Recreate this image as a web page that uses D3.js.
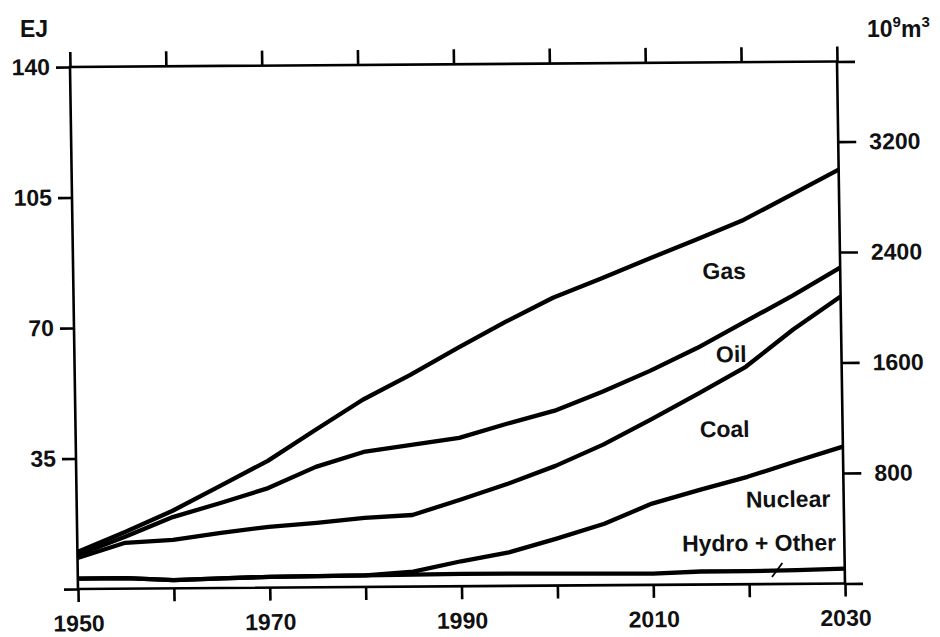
<!DOCTYPE html>
<html>
<head>
<meta charset="utf-8">
<script src="https://cdn.jsdelivr.net/npm/d3@7"></script>
<style>
  body { margin: 0; background: #fff; }
  svg { display: block; }
  text { font-family: 'Liberation Sans', Arial, sans-serif; font-weight: bold; fill: #111; }
</style>
</head>
<body>
<svg id="chart"></svg>
<script>
// years along x (5-year steps)
const years = [1950, 1955, 1960, 1965, 1970, 1975, 1980, 1985, 1990, 1995, 2000, 2005, 2010, 2015, 2020, 2025, 2030]

// supply per source, EJ (stacked from the bottom up)
const hydroOther = [2.8, 2.8, 2.2, 2.6, 2.9, 3.0, 3.1, 3.2, 3.3, 3.3, 3.2, 3.1, 3.0, 3.5, 3.5, 3.7, 4.0]
const nuclear = [0, 0, 0, 0, 0, 0, 0, 0.8, 3.4, 5.7, 9.4, 13.4, 18.8, 21.9, 25.3, 29.1, 32.7]
const coal = [5.5, 9.5, 10.8, 12.2, 13.4, 14.3, 15.4, 15.2, 16.5, 18.4, 19.5, 21.2, 22.5, 25.8, 29.5, 35.4, 40.3]
const oil = [0.8, 1.6, 6.1, 8.0, 10.4, 15.0, 17.7, 18.8, 16.6, 16.1, 14.8, 14.2, 13.1, 12.3, 12.1, 9.1, 7.7]
const gas = [0.8, 1.3, 1.7, 4.6, 7.3, 9.9, 14.0, 18.8, 24.1, 27.3, 30.3, 30.3, 30.0, 29.0, 27.3, 27.0, 26.3]

const sourceKeys = ['hydroOther', 'nuclear', 'coal', 'oil', 'gas']

// axes
const xTicks = [1950, 1960, 1970, 1980, 1990, 2000, 2010, 2020, 2030]
const xLabels = [1950, 1970, 1990, 2010, 2030]
const ejTicks = [0, 35, 70, 105, 140]
const bcmTicks = [0, 800, 1600, 2400, 3200, 3780]

// band labels (placed in data units)
const bandLabels = [
  { text: 'Gas', year: 2017.9, value: 81.9 },
  { text: 'Oil', year: 2018.5, value: 59.6 },
  { text: 'Coal', year: 2017.7, value: 39.5 },
  { text: 'Nuclear', year: 2024.2, value: 20.6 },
  { text: 'Hydro + Other', year: 2021.1, value: 8.9 },
]
const hydroLeader = [
  { year: 2023.5, value: 5.6 },
  { year: 2022.4, value: 1.9 },
]

const W = 940, H = 637
const innerW = 767, innerH = 522
const fs = 23

const svg = d3.select('#chart').attr('width', W).attr('height', H).attr('viewBox', [0, 0, W, H])

// the scan is a little skewed, so the plot frame is too
const g = svg.append('g').attr('transform', 'matrix(1,-0.00717,0.0153,1,70,67)')

const x = d3.scaleLinear().domain([1950, 2030]).range([0, innerW])
const y = d3.scaleLinear().domain([0, 140]).range([innerH, 0])
const yR = d3.scaleLinear().domain([0, 3780]).range([innerH, 0])

// stacked totals
const rows = years.map((yr, i) => ({
  year: yr,
  hydroOther: hydroOther[i],
  nuclear: nuclear[i],
  coal: coal[i],
  oil: oil[i],
  gas: gas[i],
}))
const layers = d3.stack().keys(sourceKeys)(rows)

// frame
g.append('rect')
  .attr('x', 0).attr('y', 0)
  .attr('width', innerW).attr('height', innerH)
  .attr('fill', 'none').attr('stroke', '#000').attr('stroke-width', 2.6)

function styleAxis(sel) {
  sel.attr('font-size', fs).attr('font-family', null)
  sel.select('.domain').remove()
  sel.selectAll('.tick line').attr('stroke', '#000').attr('stroke-width', 2.6)
  sel.selectAll('.tick text').attr('fill', '#111')
}

g.append('g')
  .call(d3.axisTop(x).tickValues(xTicks).tickSize(15).tickFormat(''))
  .call(styleAxis)

g.append('g')
  .attr('transform', `translate(0,${innerH})`)
  .call(d3.axisBottom(x).tickValues(xTicks).tickSize(13).tickPadding(13)
    .tickFormat(d => (xLabels.includes(d) ? d : '')))
  .call(styleAxis)

g.append('g')
  .call(d3.axisLeft(y).tickValues(ejTicks).tickSize(14).tickPadding(6)
    .tickFormat(d => (d === 0 ? '' : d)))
  .call(styleAxis)

g.append('g')
  .attr('transform', `translate(${innerW},0)`)
  .call(d3.axisRight(yR).tickValues(bcmTicks).tickSize(18).tickPadding(13)
    .tickFormat(d => (d === 0 || d === 3780 ? '' : d)))
  .call(styleAxis)

// cumulative lines
const line = d3.line()
  .x(d => x(d.data.year))
  .y(d => y(d[1]))

g.append('g')
  .selectAll('path.total')
  .data(layers)
  .join('path')
  .attr('class', 'total')
  .attr('d', line)
  .attr('fill', 'none')
  .attr('stroke', '#000')
  .attr('stroke-width', 4.3)
  .attr('stroke-linejoin', 'round')

// band labels
g.append('g')
  .selectAll('text')
  .data(bandLabels)
  .join('text')
  .attr('x', d => x(d.year))
  .attr('y', d => y(d.value))
  .attr('text-anchor', 'middle')
  .attr('font-size', fs)
  .text(d => d.text)

g.append('line')
  .attr('x1', x(hydroLeader[0].year)).attr('y1', y(hydroLeader[0].value))
  .attr('x2', x(hydroLeader[1].year)).attr('y2', y(hydroLeader[1].value))
  .attr('stroke', '#000').attr('stroke-width', 1.8)

// unit titles
svg.append('text')
  .attr('x', 34).attr('y', 37)
  .attr('text-anchor', 'middle')
  .attr('font-size', fs)
  .text('EJ')

const unitR = svg.append('text').attr('x', 867).attr('y', 37).attr('font-size', fs)
unitR.append('tspan').text('10')
unitR.append('tspan').attr('dy', -10).attr('font-size', 15).text('9')
unitR.append('tspan').attr('dy', 10).text('m')
unitR.append('tspan').attr('dy', -10).attr('font-size', 15).text('3')
</script>
</body>
</html>
